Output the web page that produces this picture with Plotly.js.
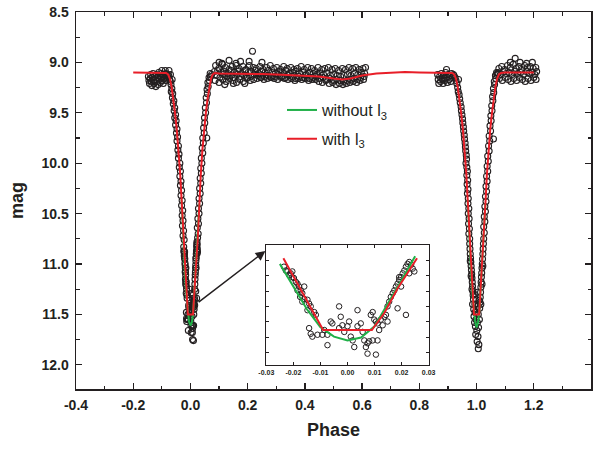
<!DOCTYPE html>
<html><head><meta charset="utf-8">
<script src="https://cdn.plot.ly/plotly-3.0.1.min.js"></script>
<style>html,body{margin:0;padding:0;background:#fff}#chart{width:600px;height:449px}</style>
</head><body><div id="chart"></div>
<script>
// ---- observed data (phase, mag) ----
const prePhase = [-0.147,-0.145,-0.143,-0.141,-0.139,-0.137,-0.135,-0.133,-0.131,-0.129,-0.127,-0.125,-0.123,-0.121,-0.119,-0.117,-0.115,-0.113,-0.111,-0.109,-0.107,-0.105,-0.103,-0.101,-0.099,-0.097,-0.095,-0.093,-0.091,-0.089,-0.087,-0.085,-0.083,-0.081,-0.100,-0.088,-0.064];
const preMag   = [9.14,9.18,9.21,9.16,9.12,9.19,9.23,9.15,9.11,9.18,9.21,9.14,9.17,9.24,9.12,9.19,9.15,9.22,9.10,9.17,9.13,9.20,9.15,9.11,9.18,9.14,9.21,9.12,9.16,9.13,9.18,9.11,9.15,9.12,9.08,9.08,9.17];

const priLeftPhase = [-0.080,-0.076,-0.073,-0.070,-0.068,-0.065,-0.067,-0.062,-0.063,-0.058,-0.060,-0.055,-0.057,-0.052,-0.055,-0.050,-0.052,-0.047,-0.049,-0.045,-0.047,-0.042,-0.044,-0.040,-0.042,-0.037,-0.039,-0.035,-0.037,-0.033,-0.035,-0.031,-0.033,-0.029,-0.031,-0.027,-0.029,-0.026,-0.028,-0.024,-0.026,-0.022,-0.075,-0.070];
const priLeftMag   = [9.14,9.13,9.17,9.19,9.22,9.26,9.29,9.31,9.35,9.38,9.41,9.45,9.48,9.52,9.55,9.58,9.62,9.66,9.70,9.74,9.78,9.83,9.87,9.91,9.95,10.00,10.04,10.08,10.13,10.18,10.22,10.27,10.32,10.37,10.42,10.47,10.52,10.57,10.62,10.67,10.72,10.76,9.08,9.12];

const priBottomPhase = [-0.0235,-0.0228,-0.0222,-0.0210,-0.0204,-0.0198,-0.0191,-0.0204,-0.0185,-0.0179,-0.0173,-0.0167,-0.0185,-0.0175,-0.0167,-0.0160,-0.0148,-0.0142,-0.0136,-0.0148,-0.0123,-0.0117,-0.0160,-0.0215,
  -0.0142,-0.0136,-0.0130,-0.0111,-0.0093,-0.0086,-0.0074,-0.0062,-0.0056,-0.0074,
  -0.0031,-0.0025,-0.0019,-0.0031,-0.0012,0.0000,0.0006,0.0012,0.0019,0.0025,0.0037,0.0037,0.0049,0.0056,0.0062,0.0068,0.0074,0.0080,0.0086,0.0093,0.0099,0.0105,0.0111,0.0105,0.0074,0.0093,
  0.0111,0.0123,0.0136,0.0142,0.0148,0.0154,0.0160,0.0167,0.0173,0.0179,0.0185,0.0191,0.0198,0.0204,0.0210,0.0216,0.0222,0.0228,0.0235,0.0241,0.0247,0.0198,0.0216,0.0185,0.0191,0.0228,0.0148,0.0130,0.0117];
const priBottomMag = [10.83,10.87,10.88,10.90,10.94,10.95,10.99,10.88,11.01,11.04,11.08,11.11,11.08,11.15,11.20,11.17,11.18,11.22,11.25,11.29,11.31,11.34,11.04,10.92,
  11.48,11.54,11.57,11.55,11.55,11.50,11.55,11.41,11.43,11.66,
  11.25,11.36,11.45,11.48,11.52,11.46,11.41,11.57,11.61,11.68,11.29,11.46,11.43,11.52,11.61,11.68,11.75,11.62,11.34,11.31,11.39,11.41,11.61,11.76,11.64,11.61,
  11.43,11.39,11.36,11.34,11.25,11.20,11.15,11.11,11.08,11.04,11.01,10.97,10.94,10.90,10.87,10.83,10.80,10.78,10.81,10.85,10.88,11.04,11.34,11.27,10.94,10.90,11.41,11.45,11.50];

const priRightPhase = [0.025,0.027,0.024,0.028,0.026,0.030,0.028,0.032,0.030,0.034,0.032,0.036,0.034,0.038,0.036,0.040,0.038,0.043,0.041,0.045,0.043,0.048,0.046,0.050,0.049,0.053,0.052,0.056,0.055,0.059,0.058,0.062,0.061,0.066,0.065,0.070,0.069,0.074,0.057];
const priRightMag   = [10.74,10.70,10.64,10.60,10.55,10.50,10.45,10.40,10.35,10.30,10.25,10.20,10.15,10.10,10.05,10.00,9.95,9.90,9.85,9.80,9.75,9.70,9.65,9.60,9.55,9.50,9.45,9.40,9.35,9.31,9.27,9.24,9.20,9.18,9.15,9.14,9.11,9.12,9.75];

const maxPhase = [
  0.088,0.099,0.112,0.122,0.135,0.146,0.159,0.170,0.183,0.194,0.206,0.219,0.230,0.243,0.254,0.266,0.279,0.290,0.302,0.315,0.326,0.338,0.351,0.362,0.374,0.387,0.398,0.410,0.423,0.434,0.446,0.459,0.470,0.482,0.495,0.506,0.518,0.531,0.542,0.554,0.567,0.578,0.590,0.603,0.612,
  0.084,0.095,0.107,0.118,0.131,0.142,0.154,0.166,0.178,0.190,0.202,0.213,0.226,0.237,0.249,0.261,0.273,0.285,0.297,0.309,0.321,0.333,0.345,0.357,0.369,0.381,0.393,0.405,0.417,0.429,0.441,0.453,0.465,0.477,0.489,0.501,0.513,0.525,0.537,0.549,0.561,0.573,0.585,0.597,0.609,
  0.091,0.103,0.115,0.127,0.139,0.151,0.163,0.175,0.187,0.199,0.211,0.223,0.235,0.247,0.259,0.271,0.283,0.295,0.307,0.319,0.331,0.343,0.355,0.367,0.379,0.391,0.403,0.415,0.427,0.439,0.451,0.463,0.475,0.487,0.499,0.511,0.523,0.535,0.547,0.559,0.571,0.583,0.595,0.607,
  0.086,0.100,0.113,0.125,0.137,0.149,0.161,0.173,0.185,0.197,0.209,0.221,0.233,0.245,0.257,0.269,0.281,0.293,0.305,0.317,0.329,0.341,0.353,0.365,0.377,0.389,0.401,0.413,0.425,0.437,0.449,0.461,0.473,0.485,0.497,0.509,0.521,0.533,0.545,0.557,0.569,0.581,0.593,0.605,
  0.217,0.135,0.175,0.205,0.100,0.250,0.150,0.120,0.190,0.110,0.160];
const maxMag = [
  9.03,9.06,9.02,9.05,9.07,9.04,9.01,9.06,9.04,9.07,9.03,9.05,9.06,9.04,9.07,9.05,9.03,9.06,9.05,9.07,9.04,9.06,9.05,9.07,9.06,9.04,9.07,9.05,9.06,9.08,9.05,9.07,9.06,9.05,9.07,9.06,9.08,9.06,9.07,9.05,9.06,9.05,9.07,9.06,9.05,
  9.09,9.08,9.10,9.09,9.11,9.08,9.10,9.09,9.11,9.08,9.10,9.09,9.08,9.11,9.09,9.10,9.08,9.10,9.11,9.09,9.10,9.08,9.11,9.10,9.09,9.11,9.10,9.12,9.10,9.11,9.12,9.11,9.12,9.11,9.13,9.12,9.13,9.14,9.13,9.12,9.13,9.11,9.12,9.10,9.11,
  9.13,9.15,9.12,9.14,9.13,9.15,9.12,9.14,9.13,9.15,9.14,9.12,9.13,9.15,9.14,9.13,9.15,9.14,9.12,9.14,9.15,9.13,9.14,9.16,9.14,9.15,9.13,9.16,9.15,9.14,9.16,9.15,9.17,9.16,9.18,9.17,9.18,9.19,9.18,9.17,9.16,9.17,9.15,9.14,
  9.18,9.20,9.17,9.19,9.16,9.18,9.20,9.17,9.19,9.16,9.18,9.17,9.16,9.15,9.17,9.16,9.15,9.16,9.17,9.15,9.16,9.17,9.16,9.18,9.16,9.17,9.16,9.18,9.17,9.17,9.19,9.20,9.18,9.21,9.20,9.22,9.21,9.22,9.21,9.20,9.19,9.20,9.18,9.17,
  8.89,8.98,8.99,8.99,9.00,9.00,9.21,9.22,9.21,9.01,9.03];

const preSecPhase = [0.864,0.866,0.868,0.871,0.874,0.877,0.880,0.883,0.886,0.889,0.892,0.895,0.898,0.901,0.904,0.907,0.910,0.913,0.916,0.919,0.895,0.937];
const preSecMag   = [9.12,9.17,9.21,9.14,9.19,9.11,9.16,9.21,9.13,9.18,9.10,9.15,9.20,9.12,9.17,9.13,9.19,9.11,9.15,9.12,9.07,9.17];

const secLeftPhase = [0.921,0.925,0.928,0.931,0.934,0.936,0.939,0.941,0.943,0.946,0.947,0.949,0.951,0.952,0.954,0.955,0.957,0.958,0.960,0.961,0.962,0.964,0.965,0.963,0.966,0.968,0.966,0.969,0.967,0.970,0.968,0.971,0.970,0.973,0.971,0.974,0.972,0.975,0.973,0.976];
const secLeftMag   = [9.13,9.15,9.18,9.21,9.25,9.29,9.32,9.36,9.40,9.44,9.48,9.52,9.56,9.60,9.64,9.68,9.72,9.76,9.80,9.84,9.88,9.92,9.96,10.00,10.04,10.08,10.12,10.17,10.21,10.26,10.30,10.35,10.40,10.45,10.50,10.55,10.60,10.65,10.70,10.75];

const secBottomPhase = [0.976,0.977,0.978,0.979,0.980,0.981,0.982,0.983,0.984,0.985,0.986,0.987,0.988,0.989,0.978,0.981,0.984,0.986,
  0.990,0.991,0.993,0.994,0.995,0.996,0.997,0.998,0.999,1.000,1.001,1.002,1.003,1.004,1.005,1.006,1.007,1.008,1.009,1.010,0.992,1.003,1.006,
  1.011,1.012,1.013,1.014,1.015,1.016,1.017,1.018,1.019,1.020,1.021,1.022,1.023,1.024,1.015,1.019,1.022];
const secBottomMag = [10.80,10.85,10.90,10.94,10.98,11.02,11.06,11.10,11.14,11.18,11.22,11.27,11.31,11.35,10.97,11.12,11.25,11.40,
  11.45,11.52,11.58,11.40,11.48,11.62,11.70,11.55,11.35,11.45,11.66,11.77,11.58,11.42,11.72,11.50,11.63,11.80,11.36,11.55,11.30,11.28,11.84,
  11.44,11.38,11.33,11.28,11.23,11.18,11.13,11.09,11.04,11.00,10.95,10.90,10.85,10.80,11.40,11.20,11.02];

const secRightPhase = [1.025,1.027,1.025,1.029,1.027,1.031,1.029,1.033,1.031,1.035,1.033,1.037,1.035,1.039,1.037,1.041,1.039,1.044,1.042,1.046,1.044,1.049,1.047,1.051,1.050,1.054,1.053,1.057,1.056,1.060,1.059,1.063,1.062,1.067,1.066,1.071,1.070,1.075,1.059];
const secRightMag   = [10.75,10.69,10.63,10.58,10.53,10.48,10.43,10.38,10.33,10.28,10.23,10.18,10.13,10.08,10.03,9.98,9.93,9.88,9.83,9.78,9.73,9.68,9.63,9.58,9.53,9.48,9.43,9.38,9.34,9.30,9.26,9.22,9.19,9.16,9.13,9.12,9.10,9.11,9.76];

const postPhase = [1.078,1.088,1.098,1.108,1.118,1.128,1.138,1.148,1.158,1.168,1.178,1.188,1.198,1.207,
  1.074,1.084,1.094,1.104,1.114,1.124,1.134,1.144,1.154,1.164,1.174,1.184,1.194,1.204,1.210,
  1.080,1.090,1.100,1.110,1.120,1.130,1.140,1.150,1.160,1.170,1.180,1.190,1.200,1.208,
  1.135,1.118,1.152,1.175,1.195];
const postMag = [9.06,9.04,9.07,9.03,9.05,9.02,9.06,9.04,9.07,9.03,9.05,9.04,9.06,9.05,
  9.10,9.12,9.09,9.11,9.10,9.12,9.09,9.11,9.10,9.12,9.09,9.11,9.10,9.12,9.09,
  9.16,9.18,9.15,9.17,9.19,9.16,9.18,9.15,9.17,9.19,9.16,9.18,9.15,9.17,
  8.96,9.00,9.00,9.01,9.00];

// ---- model curves ----
const withL3Phase = [-0.200,-0.150,-0.100,-0.085,-0.078,-0.072,-0.066,-0.060,-0.054,-0.048,-0.042,-0.036,-0.031,-0.0237,-0.0185,-0.0136,-0.009,0.009,0.0136,0.0185,0.0257,0.031,0.036,0.042,0.048,0.054,0.060,0.066,0.072,0.078,0.085,0.10,0.15,0.20,0.25,0.30,0.35,0.40,0.45,0.50,0.53,0.56,0.60,0.65,0.70,0.75,0.80,0.85,0.90,0.915,0.922,0.928,0.934,0.940,0.946,0.952,0.958,0.964,0.969,0.9763,0.9815,0.9864,0.991,1.009,1.0136,1.0185,1.0257,1.031,1.036,1.042,1.048,1.054,1.060,1.066,1.072,1.078,1.085,1.10,1.15,1.20];
const withL3Mag   = [9.10,9.10,9.10,9.105,9.12,9.16,9.24,9.36,9.50,9.66,9.86,10.10,10.36,10.74,11.01,11.27,11.50,11.50,11.32,11.06,10.74,10.40,10.12,9.86,9.66,9.50,9.36,9.24,9.16,9.12,9.105,9.11,9.11,9.115,9.115,9.12,9.125,9.13,9.14,9.16,9.17,9.16,9.13,9.11,9.10,9.095,9.10,9.105,9.11,9.105,9.12,9.16,9.24,9.36,9.50,9.66,9.86,10.10,10.36,10.74,11.01,11.27,11.50,11.50,11.29,11.03,10.74,10.40,10.12,9.86,9.66,9.50,9.36,9.24,9.16,9.12,9.105,9.10,9.10,9.10];

const noL3PriPhase = [-0.031,-0.025,-0.020,-0.015,-0.010,-0.005,0.000,0.005,0.010,0.015,0.020,0.025,0.031];
const noL3PriMag   = [10.36,10.80,11.04,11.28,11.47,11.57,11.61,11.58,11.46,11.22,10.97,10.72,10.40];
const noL3SecPhase = [0.969,0.975,0.980,0.985,0.990,0.995,1.000,1.005,1.010,1.015,1.020,1.025,1.031];
const noL3SecMag   = [10.36,10.78,11.04,11.28,11.47,11.57,11.63,11.58,11.46,11.22,10.97,10.72,10.40];

// ---- tick labels ----
const xTickVals = [-0.4,-0.2,0.0,0.2,0.4,0.6,0.8,1.0,1.2,1.4];
const xTickText = ['-0.4','-0.2','0.0','0.2','0.4','0.6','0.8','1.0','1.2','1.4'];
const yTickVals = [8.5,9.0,9.5,10.0,10.5,11.0,11.5,12.0];
const yTickText = ['8.5','9.0','9.5','10.0','10.5','11.0','11.5','12.0'];
const insetTickVals = [-0.03,-0.02,-0.01,0.00,0.01,0.02,0.03];
const insetTickText = ['-0.03','-0.02','-0.01','0.00','0.01','0.02','0.03'];

const obsPhase = [].concat(prePhase, priLeftPhase, priBottomPhase, priRightPhase, maxPhase, preSecPhase, secLeftPhase, secBottomPhase, secRightPhase, postPhase);
const obsMag   = [].concat(preMag, priLeftMag, priBottomMag, priRightMag, maxMag, preSecMag, secLeftMag, secBottomMag, secRightMag, postMag);

const GREEN = 'rgb(32,176,72)', RED = 'rgb(232,30,40)', INK = '#231f20';
const FONT = 'Liberation Sans, Arial, sans-serif';

const greenX = noL3PriPhase.concat([null], noL3SecPhase);
const greenY = noL3PriMag.concat([null], noL3SecMag);

const insetRedX = [], insetRedY = [];
withL3Phase.forEach((p,i)=>{ if (p >= -0.024 && p <= 0.026) { insetRedX.push(p); insetRedY.push(withL3Mag[i]); } });
const insetGreenX = [], insetGreenY = [];
noL3PriPhase.forEach((p,i)=>{ if (p >= -0.0255 && p <= 0.0255) { insetGreenX.push(p); insetGreenY.push(noL3PriMag[i]); } });

const marker = {symbol:'circle-open', size:6, color:INK, line:{width:1.1, color:INK}};

const traces = [
  {x:obsPhase, y:obsMag, type:'scatter', mode:'markers', marker:marker, showlegend:false, hoverinfo:'skip'},
  {x:greenX, y:greenY, type:'scatter', mode:'lines', line:{color:GREEN, width:2}, name:'without l<sub>3</sub>', legendgroup:'a', connectgaps:false},
  {x:withL3Phase, y:withL3Mag, type:'scatter', mode:'lines', line:{color:RED, width:2}, name:'with l<sub>3</sub>', legendgroup:'b'},
  {x:priBottomPhase, y:priBottomMag, xaxis:'x2', yaxis:'y2', type:'scatter', mode:'markers', marker:{symbol:'circle-open', size:5.5, color:INK, line:{width:1, color:INK}}, showlegend:false},
  {x:insetGreenX, y:insetGreenY, xaxis:'x2', yaxis:'y2', type:'scatter', mode:'lines', line:{color:GREEN, width:2}, showlegend:false},
  {x:insetRedX, y:insetRedY, xaxis:'x2', yaxis:'y2', type:'scatter', mode:'lines', line:{color:RED, width:2}, showlegend:false}
];

const axisCommon = {
  showline:true, linewidth:1.5, linecolor:INK, mirror:'ticks', showgrid:false, zeroline:false,
  ticks:'inside', ticklen:6, tickwidth:1.3, tickcolor:INK
};

const layout = {
  width:600, height:449,
  margin:{l:76, r:9, t:12, b:60},
  paper_bgcolor:'#fff', plot_bgcolor:'#fff',
  font:{family:FONT, color:INK},
  showlegend:true,
  xaxis: Object.assign({}, axisCommon, {
    range:[-0.4,1.4], tickmode:'array', tickvals:xTickVals, ticktext:xTickText,
    minor:{dtick:0.1, ticklen:3.5, tickwidth:1.3, tickcolor:INK, ticks:'inside'},
    tickfont:{family:FONT, size:14, color:INK, weight:700}, ticklabelstandoff:3,
    title:{text:'Phase', font:{family:FONT, size:18, color:INK, weight:700}, standoff:11}
  }),
  yaxis: Object.assign({}, axisCommon, {
    range:[12.24,8.5], tickmode:'array', tickvals:yTickVals, ticktext:yTickText,
    minor:{dtick:0.25, ticklen:3.5, tickwidth:1.3, tickcolor:INK, ticks:'inside'},
    tickfont:{family:FONT, size:14, color:INK, weight:700}, ticklabelstandoff:3,
    title:{text:'mag', font:{family:FONT, size:18, color:INK, weight:700}, standoff:13}
  }),
  xaxis2: {
    domain:[0.3696,0.6848], anchor:'y2', range:[-0.03,0.03],
    tickmode:'array', tickvals:insetTickVals, ticktext:insetTickText,
    showline:true, linewidth:1.2, linecolor:INK, mirror:'ticks', showgrid:false, zeroline:false,
    ticks:'inside', ticklen:3, tickwidth:1, tickcolor:INK,
    tickfont:{family:FONT, size:7, color:INK, weight:700}
  },
  yaxis2: {
    domain:[0.0637,0.382], anchor:'x2', range:[11.87,10.60],
    tick0:10.766, dtick:0.162, showticklabels:false,
    showline:true, linewidth:1.2, linecolor:INK, mirror:'ticks', showgrid:false, zeroline:false,
    ticks:'inside', ticklen:3, tickwidth:1, tickcolor:INK
  },
  legend:{
    x:0.40, y:0.785, xanchor:'left', yanchor:'top',
    bgcolor:'rgba(0,0,0,0)', borderwidth:0,
    font:{family:FONT, size:16, color:INK},
    tracegroupgap:5
  },
  annotations:[{
    x:0.262, y:10.87, xref:'x', yref:'y', ax:0.0234, ay:11.39, axref:'x', ayref:'y',
    text:'', showarrow:true, arrowhead:2, arrowsize:1.3, arrowwidth:1.5, arrowcolor:INK, standoff:0
  }]
};

Plotly.newPlot('chart', traces, layout, {displayModeBar:false, staticPlot:true});
</script></body></html>
